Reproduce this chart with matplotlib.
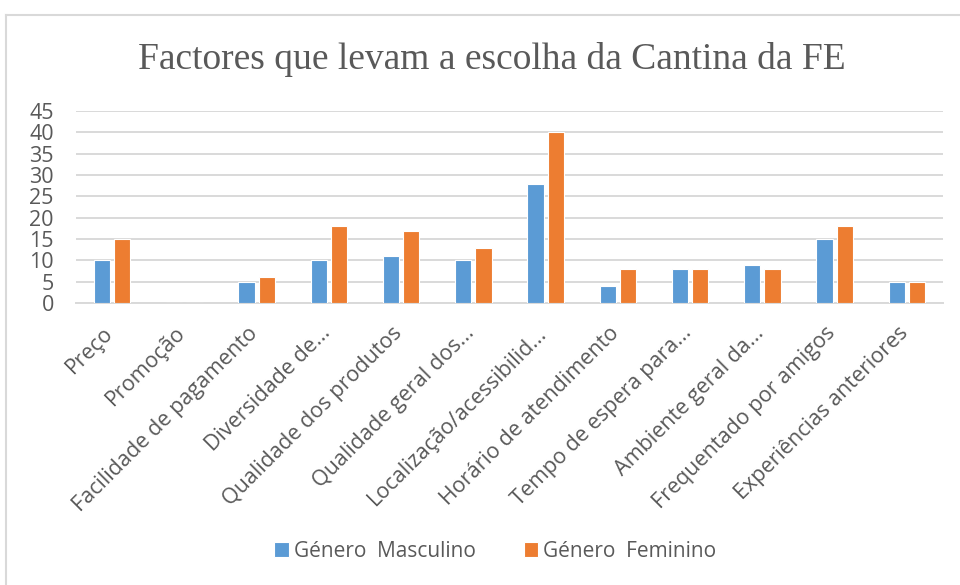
import matplotlib
matplotlib.use('Agg')
import matplotlib.pyplot as plt
import matplotlib.transforms as mtransforms
from matplotlib.lines import Line2D
import numpy as np

categories = ['Preço', 'Promoção', 'Facilidade de pagamento', 'Diversidade de...',
              'Qualidade dos produtos', 'Qualidade geral dos...',
              'Localização/acessibilid...', 'Horário de atendimento',
              'Tempo de espera para...', 'Ambiente geral da...',
              'Frequentado por amigos', 'Experiências anteriores']
masculino = [10, 0, 5, 10, 11, 10, 28, 4, 8, 9, 15, 5]
feminino = [15, 0, 6, 18, 17, 13, 40, 8, 8, 8, 18, 5]
yticks = [0, 5, 10, 15, 20, 25, 30, 35, 40, 45]

blue = '#5b9bd5'
orange = '#ed7d31'
grey_txt = '#595959'
grid_col = '#d9d9d9'
sans = ['Open Sans', 'DejaVu Sans']

fig = plt.figure(figsize=(9.6, 5.85), dpi=100)
ax = fig.add_axes([0.0792, 0.482, 0.9031, 0.328])

x = np.arange(len(categories))
w = 0.225
ax.bar(x - 0.14, masculino, w, color=blue, edgecolor='white', linewidth=0.8,
       zorder=3, label='Género  Masculino')
ax.bar(x + 0.14, feminino, w, color=orange, edgecolor='white', linewidth=0.8,
       zorder=3, label='Género  Feminino')

ax.set_xlim(-0.5, len(categories) - 0.5)
ax.set_ylim(0, 45)
ax.set_yticks(yticks)
ax.set_yticklabels([str(v) for v in yticks], family=sans, fontsize=15.5,
                   color=grey_txt)
ax.tick_params(axis='y', length=0, pad=16)
ax.set_xticks([])
ax.yaxis.grid(True, color=grid_col, linewidth=1.4, zorder=0)
for s in ['top', 'right', 'left']:
    ax.spines[s].set_visible(False)
ax.spines['bottom'].set_color(grid_col)
ax.spines['bottom'].set_linewidth(1.4)

# rotated category labels
offset = mtransforms.ScaledTranslation(0.02, -0.31, fig.dpi_scale_trans)
trans = ax.get_xaxis_transform() + offset
for i, lab in enumerate(categories):
    ax.text(i, 0, lab, transform=trans, rotation=45, rotation_mode='anchor',
            ha='right', va='baseline', family=sans, fontsize=15.5,
            color=grey_txt)

fig.text(0.512, 0.898, 'Factores que levam a escolha da Cantina da FE',
         ha='center', va='center', family=['Liberation Serif', 'DejaVu Serif'],
         fontsize=27, color=grey_txt)

leg = fig.legend(loc='center', bbox_to_anchor=(0.516, 0.058), ncol=2,
                 frameon=False, handlelength=0.7, handleheight=0.7,
                 handletextpad=0.25, columnspacing=2.3,
                 prop={'family': sans, 'size': 15})
for t in leg.get_texts():
    t.set_color(grey_txt)

# chart frame
fig.add_artist(Line2D([6 / 960, 1], [1 - 15 / 585, 1 - 15 / 585],
                      transform=fig.transFigure, color=grid_col, linewidth=1.5))
fig.add_artist(Line2D([6 / 960, 6 / 960], [0, 1 - 15 / 585],
                      transform=fig.transFigure, color=grid_col, linewidth=1.5))

fig.savefig('out.png', dpi=100, facecolor='white')
